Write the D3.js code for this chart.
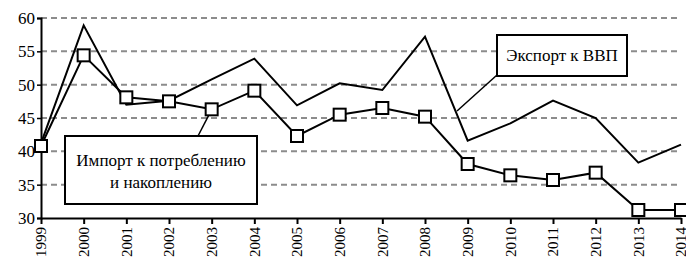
<!DOCTYPE html>
<html><head><meta charset="utf-8">
<script src="https://cdn.jsdelivr.net/npm/d3@7"></script>
</head><body style="margin:0;background:#fff">
<svg id="chart" width="686" height="264" style="display:block"></svg>
<script>
const years = ["1999","2000","2001","2002","2003","2004","2005","2006","2007","2008","2009","2010","2011","2012","2013","2014"];
const exportGdp = [41.2,58.9,47.0,47.6,50.8,53.9,46.9,50.2,49.2,57.2,41.6,44.2,47.6,45.0,38.3,41.0];
const importCons = [40.8,54.4,48.1,47.5,46.3,49.1,42.3,45.5,46.5,45.2,38.1,36.4,35.7,36.8,31.2,31.2];
const yTicks = [30,35,40,45,50,55,60];
const labelImport = ["Импорт к потреблению","и накоплению"];
const labelExport = "Экспорт к ВВП";

const svg = d3.select("#chart");
const L=41,R=681,T=18,B=218;
const x = d3.scalePoint().domain(years).range([L,R]);
const y = d3.scaleLinear().domain([30,60]).range([B,T]);

// grid
svg.append("g").selectAll("line").data(yTicks.slice(1)).join("line")
  .attr("x1",L).attr("x2",R).attr("y1",d=>y(d)).attr("y2",d=>y(d))
  .attr("stroke","#8c8c8c").attr("stroke-width",2).attr("stroke-dasharray","6,4");

// y axis
const ya = svg.append("g").attr("transform",`translate(${L},0)`).call(d3.axisLeft(y).tickValues(yTicks).tickSize(4).tickPadding(3));
ya.select(".domain").attr("stroke","#000").attr("stroke-width",2);
ya.selectAll(".tick line").attr("stroke","#000").attr("stroke-width",1.5);
ya.selectAll(".tick text").remove();
svg.append("g").selectAll("text").data(yTicks).join("text")
  .attr("x",L-6).attr("y",d=>y(d)).attr("dy","0.35em").attr("text-anchor","end")
  .attr("font-family","Liberation Serif").attr("font-size",17).attr("fill","#000").text(d=>d);

// x axis
const xa = svg.append("g").attr("transform",`translate(0,${B})`).call(d3.axisBottom(x).tickSize(6).tickSizeOuter(0));
xa.select(".domain").attr("stroke","#000").attr("stroke-width",2);
xa.selectAll(".tick line").attr("stroke","#000").attr("stroke-width",2);
xa.selectAll(".tick text").remove();
svg.append("g").selectAll("text").data(years).join("text")
  .attr("transform",d=>`translate(${x(d)},${B+9}) rotate(-90)`)
  .attr("text-anchor","end").attr("dy","0.35em")
  .attr("font-family","Liberation Serif").attr("font-size",15).attr("fill","#000").text(d=>d);

const line = d3.line().x((d,i)=>x(years[i])).y(d=>y(d));
svg.append("path").datum(exportGdp).attr("d",line).attr("fill","none").attr("stroke","#000").attr("stroke-width",2);
svg.append("path").datum(importCons).attr("d",line).attr("fill","none").attr("stroke","#000").attr("stroke-width",2);
svg.append("g").selectAll("rect").data(importCons).join("rect")
  .attr("x",(d,i)=>x(years[i])-6).attr("y",d=>y(d)-6).attr("width",12).attr("height",12)
  .attr("fill","#fff").attr("stroke","#000").attr("stroke-width",2);

// import label
const ip = [x("2003"), y(importCons[4])];
svg.append("line").attr("x1",198).attr("y1",136).attr("x2",ip[0]-3).attr("y2",ip[1]+6).attr("stroke","#000").attr("stroke-width",1.5);
svg.append("rect").attr("x",65).attr("y",136).attr("width",192).attr("height",68).attr("fill","#fff").attr("stroke","#000").attr("stroke-width",2);
svg.append("g").selectAll("text").data(labelImport).join("text")
  .attr("x",161).attr("y",(d,i)=>166+i*22).attr("text-anchor","middle")
  .attr("font-family","Liberation Serif").attr("font-size",17).attr("fill","#000").text(d=>d);

// export label
svg.append("line").attr("x1",497).attr("y1",75).attr("x2",457).attr("y2",111).attr("stroke","#000").attr("stroke-width",1.5);
svg.append("rect").attr("x",497).attr("y",35).attr("width",130).attr("height",41).attr("fill","#fff").attr("stroke","#000").attr("stroke-width",2);
svg.append("g").selectAll("text").data([labelExport]).join("text")
  .attr("x",562).attr("y",61).attr("text-anchor","middle")
  .attr("font-family","Liberation Serif").attr("font-size",17).attr("fill","#000").text(d=>d);
</script></body></html>
